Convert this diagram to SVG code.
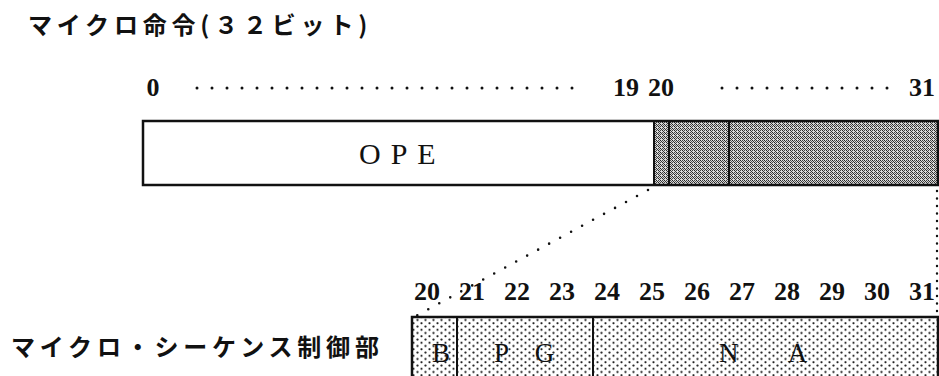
<svg xmlns="http://www.w3.org/2000/svg" width="939" height="376" viewBox="0 0 939 376">
<defs>
<pattern id="dense" width="4" height="4" patternUnits="userSpaceOnUse">
<rect width="4" height="4" fill="#d8d8d8"/>
<rect x="0" y="0" width="1" height="1" fill="#222"/>
<rect x="2" y="0" width="1" height="1" fill="#444"/>
<rect x="1" y="1" width="1" height="1" fill="#333"/>
<rect x="3" y="1" width="1" height="1" fill="#555"/>
<rect x="0" y="2" width="1" height="1" fill="#444"/>
<rect x="2" y="2" width="1" height="1" fill="#222"/>
<rect x="3" y="3" width="1" height="1" fill="#333"/>
</pattern>
<pattern id="sparse" width="8" height="6.5" patternUnits="userSpaceOnUse">
<rect width="8" height="6.5" fill="#fff"/>
<circle cx="1.5" cy="1.5" r="1.1" fill="#222"/>
<circle cx="5.5" cy="4.75" r="1.1" fill="#222"/>
</pattern>
<style>
.jp{font-family:"Noto Sans CJK JP","Noto Sans CJK SC",sans-serif;font-weight:700;font-size:24px;letter-spacing:4.8px;fill:#111}
.num{font-family:"Liberation Serif","Times New Roman",serif;font-weight:700;font-size:26px;fill:#111;text-anchor:middle}
.lbl{font-family:"Liberation Serif","Times New Roman",serif;font-size:27px;fill:#111}
.box{stroke:#111;stroke-width:2.5;fill:none}
.div{stroke:#111;stroke-width:2}
.dots{stroke:#111;stroke-width:3;stroke-linecap:round;fill:none}
</style>
</defs>
<g id="title"><text class="jp" x="28" y="34">マイクロ命令(３２ビット)</text></g>
<g id="label"><text class="jp" x="11" y="356">マイクロ・シーケンス制御部</text></g>
<g id="top-scale">
<text class="num" x="153" y="96">0</text>
<text class="num" x="626" y="96">19</text>
<text class="num" x="661" y="96">20</text>
<text class="num" x="922" y="96">31</text>
<line class="dots" x1="197" y1="88" x2="573" y2="88" stroke-dasharray="0 15"/>
<line class="dots" x1="722" y1="88" x2="888" y2="88" stroke-dasharray="0 15"/>
</g>
<g id="top-word">
<rect x="654" y="121" width="284" height="64" fill="url(#dense)"/>
<rect class="box" x="143" y="121" width="795" height="64"/>
<line class="div" x1="654" y1="121" x2="654" y2="185"/>
<line class="div" x1="669" y1="121" x2="669" y2="185"/>
<line class="div" x1="729" y1="121" x2="729" y2="185"/>
<text class="lbl" x="359" y="164" style="font-size:30px;letter-spacing:10px">OPE</text>
</g>
<g id="bottom-scale">
<text class="num" x="427" y="300">20</text>
<text class="num" x="472" y="300">21</text>
<text class="num" x="517" y="300">22</text>
<text class="num" x="562" y="300">23</text>
<text class="num" x="607" y="300">24</text>
<text class="num" x="652" y="300">25</text>
<text class="num" x="697" y="300">26</text>
<text class="num" x="742" y="300">27</text>
<text class="num" x="787" y="300">28</text>
<text class="num" x="832" y="300">29</text>
<text class="num" x="877" y="300">30</text>
<text class="num" x="922" y="300">31</text>
</g>
<g id="bottom-word">
<rect x="412" y="317" width="526" height="70" fill="url(#sparse)"/>
<rect class="box" x="412" y="317" width="526" height="70"/>
<line class="div" x1="457" y1="317" x2="457" y2="380"/>
<line class="div" x1="593" y1="317" x2="593" y2="380"/>
<text class="lbl" x="432" y="362">B</text>
<text class="lbl" x="494" y="362" style="letter-spacing:10px">P G</text>
<text class="lbl" x="719" y="362" style="letter-spacing:22px">N A</text>
</g>
<g id="connectors">
<line class="dots" x1="648" y1="190" x2="414" y2="317" stroke-dasharray="0 12.5" style="stroke-width:2.6"/>
<line class="dots" x1="937" y1="191" x2="937" y2="313" stroke-dasharray="0 7.5" style="stroke-width:2.4"/>
</g>
</svg>
